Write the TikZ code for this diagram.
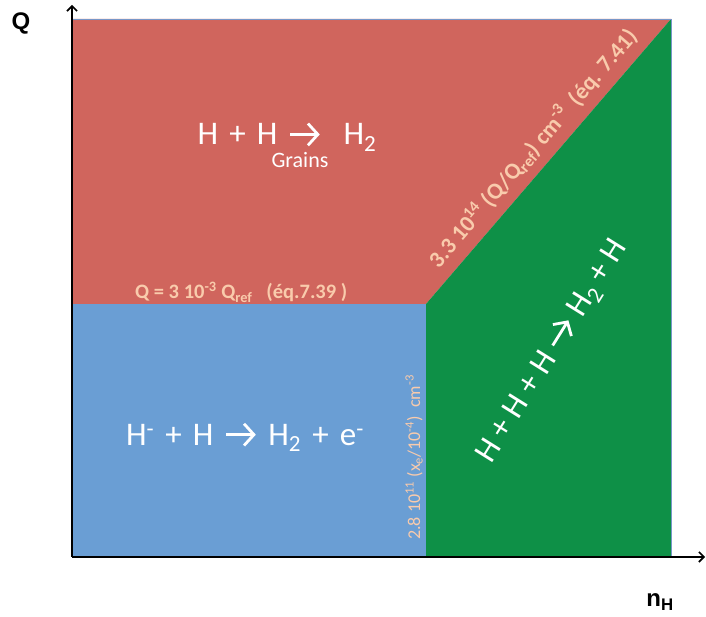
\documentclass[tikz,border=0pt]{standalone}
\usepackage{fontspec}
\setmainfont{Carlito}
\newfontfamily\axisfont{Liberation Sans}
\newfontfamily\reacfont[WordSpace=1.5]{Carlito}
\newcommand{\reacarrow}{\tikz[baseline=0pt]\draw[line width=0.085em,-{Straight Barb[length=0.3em,width=0.66em]}] (0,0.32em) -- (0.9em,0.32em);}
\usepackage{tikz}
\usetikzlibrary{arrows.meta}
\definecolor{regred}{RGB}{208,101,93}
\definecolor{regblue}{RGB}{106,158,212}
\definecolor{reggreen}{RGB}{14,144,71}
\definecolor{peach}{RGB}{249,203,172}
\definecolor{edgeblue}{RGB}{120,150,200}
\tikzset{
    axisarrow/.style={
        line width=1.6pt,
        black,
        -{Straight Barb[length=5pt, width=10pt]}
    },
    % 坐标轴标注
    axislabel/.style={
        black,
        font=\axisfont\fontsize{24}{24}\selectfont\bfseries
    },
    % 反应式（白色）
    reaction/.style={
        white,
        font=\reacfont\fontsize{33}{33}\selectfont
    },
    % 边界条件（浅橙色）
    limit/.style={
        peach,
        inner sep=0pt,
        font=\fontsize{20.5}{20.5}\selectfont\bfseries
    }
}

\begin{document}
\begin{tikzpicture}[x=1pt,y=1pt]
			\useasboundingbox (0,0) rectangle (706,617);
			
			\path
			(72,60) coordinate (o)
			(72,598) coordinate (tl)
			(671,598) coordinate (tr)
			(671,60) coordinate (br)
			(426,313) coordinate (m)
			(72,313) coordinate (lm)
			(426,60) coordinate (bm)
			
			(72,612) coordinate (qtip)
			(705,60) coordinate (ntip);
			
			% ===================== 三个区域 =====================
			\fill[regred] (lm) -- (tl) -- (tr) -- (m) -- cycle;
			\fill[regblue] (o) rectangle (m);
			\fill[reggreen] (bm) -- (m) -- (tr) -- (br) -- cycle;
			\draw[line width=0.6pt,edgeblue] (tl) -- (tr) -- (br);
			
			% ===================== 坐标轴 =====================
			\draw[axisarrow] (o) -- (qtip);
			\draw[axisarrow] (o) -- (ntip);
			\node[axislabel] (qlab) at (21,594) {Q};
			\node[axislabel] (nlab) at (660,15) {n\textsubscript{H}};
			
			% ===================== 反应式 =====================
			\node[reaction,anchor=base west] (grainreac) at (194,472) {H + H \reacarrow\ \ H\textsubscript{2}};
			\node[white,font=\fontsize{22}{22}\selectfont] (grains) at (300,457) {Grains};
			\node[reaction] (ionreac) at (245,180) {H\textsuperscript{-} + H \reacarrow\ H\textsubscript{2} + e\textsuperscript{-}};
			\node[reaction,font=\fontsize{33}{33}\selectfont,rotate=58] (threereac) at (552,266) {H + H + H \reacarrow\ H\textsubscript{2} + H};
			
			% ===================== 边界 =====================
			\node[limit,anchor=base west] (qlimit) at (135,318) {Q = 3 10\textsuperscript{-3} Q\textsubscript{ref} \ \ (éq.7.39 )};
			\node[limit,font=\fontsize{18}{18}\selectfont,rotate=90,anchor=base west] (xlimit) at (420,77) {2.8 10\textsuperscript{11} (x\textsubscript{e}/10\textsuperscript{-4}) \ cm\textsuperscript{-3}};
			\path (m) -- (tr) node[limit,font=\fontsize{23}{23}\selectfont\bfseries,sloped,pos=0.5,above=9pt] (nlimit) {3.3 10\textsuperscript{14} (Q/Q\textsubscript{ref}) cm\textsuperscript{-3} \ (éq. 7.41)};
		\end{tikzpicture}
\end{document}
